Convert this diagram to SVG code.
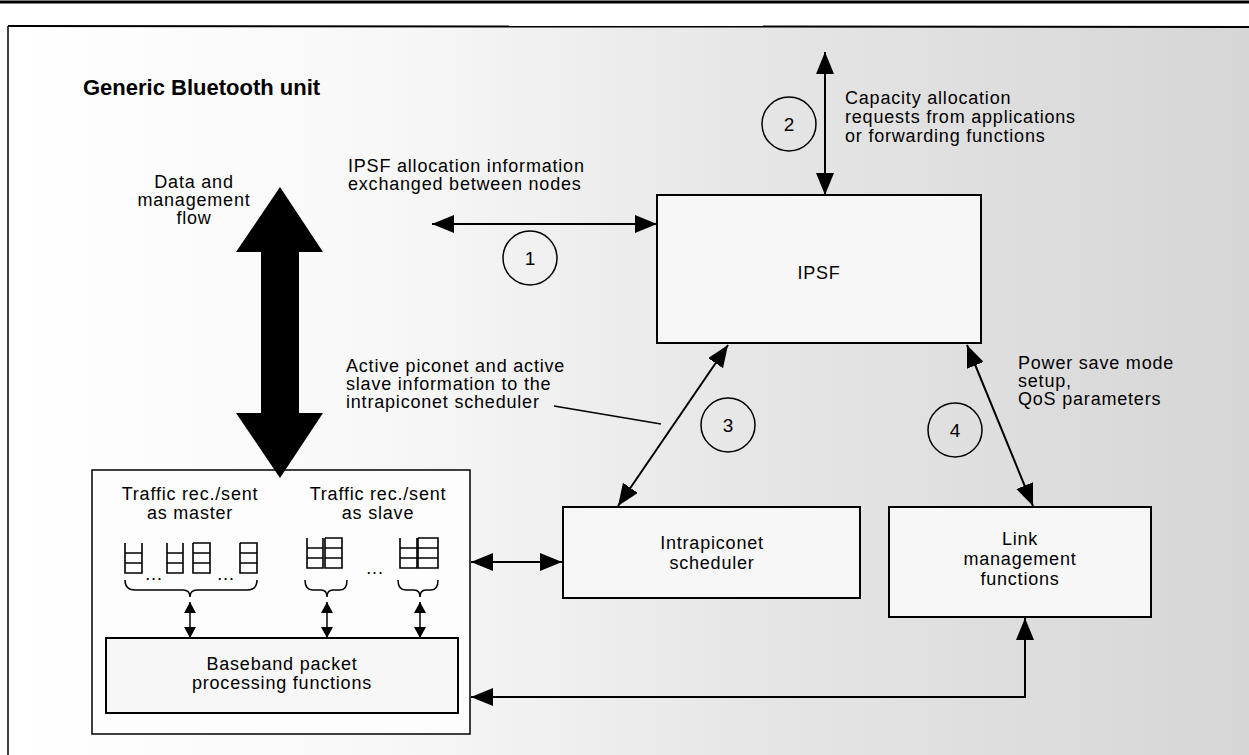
<svg xmlns="http://www.w3.org/2000/svg" width="1249" height="755" viewBox="0 0 1249 755">
<style>
text{font-family:"Liberation Sans",Arial,sans-serif;fill:#000}
.lbl{font-size:18px;letter-spacing:0.8px}
.title{font-size:22px;font-weight:bold}
.num{font-size:19px;text-anchor:middle}
.mid{text-anchor:middle}
.box{fill:#f7f7f7;stroke:#000;stroke-width:2}
.line{stroke:#000;stroke-width:2;fill:none}
.thin{stroke:#000;stroke-width:1.5;fill:none}
.circ{fill:none;stroke:#000;stroke-width:1.5}
.q{fill:none;stroke:#000;stroke-width:1.6}
</style>
<defs>
<linearGradient id="bg" x1="0" y1="0" x2="1" y2="0">
<stop offset="0" stop-color="#ffffff"/>
<stop offset="0.3" stop-color="#f8f8f8"/>
<stop offset="0.6" stop-color="#e6e6e6"/>
<stop offset="1" stop-color="#d6d6d6"/>
</linearGradient>
<marker id="ah" viewBox="0 0 22 18" refX="22" refY="9" markerWidth="22" markerHeight="18" markerUnits="userSpaceOnUse" orient="auto-start-reverse">
<path d="M0,0 L22,9 L0,18 z" fill="#000"/>
</marker>
<marker id="as" viewBox="0 0 11 12" refX="11" refY="6" markerWidth="11" markerHeight="12" markerUnits="userSpaceOnUse" orient="auto-start-reverse">
<path d="M0,0 L11,6 L0,12 z" fill="#000"/>
</marker>
</defs>

<g id="frame">
<rect x="8" y="26" width="1241" height="729" fill="url(#bg)"/>
<line x1="0" y1="2" x2="1249" y2="2" stroke="#000" stroke-width="3"/>
<line x1="8" y1="26" x2="1249" y2="27" stroke="#000" stroke-width="2"/>
<line x1="8" y1="26" x2="8" y2="755" stroke="#000" stroke-width="1.5"/>
<text x="83" y="95" class="title">Generic Bluetooth unit</text>
</g>

<g id="labels">
<text class="lbl mid" x="194"><tspan x="194" y="188">Data and</tspan><tspan x="194" y="206">management</tspan><tspan x="194" y="224">flow</tspan></text>
<text class="lbl" x="348"><tspan x="348" y="172">IPSF allocation information</tspan><tspan x="348" y="190">exchanged between nodes</tspan></text>
<text class="lbl" x="845"><tspan x="845" y="104">Capacity allocation</tspan><tspan x="845" y="123">requests from applications</tspan><tspan x="845" y="142">or forwarding functions</tspan></text>
<text class="lbl" x="346"><tspan x="346" y="372">Active piconet and active</tspan><tspan x="346" y="390">slave information to the</tspan><tspan x="346" y="408">intrapiconet scheduler</tspan></text>
<text class="lbl" x="1018"><tspan x="1018" y="369">Power save mode</tspan><tspan x="1018" y="387">setup,</tspan><tspan x="1018" y="405">QoS parameters</tspan></text>
</g>

<g id="ipsf">
<rect class="box" x="657" y="195" width="324" height="148"/>
<text class="lbl mid" x="819" y="279">IPSF</text>
</g>

<g id="traffic-unit">
<rect x="92" y="470" width="378" height="264" fill="#fdfdfd" stroke="#000" stroke-width="1.5"/>
<text class="lbl mid" x="190"><tspan x="190" y="500">Traffic rec./sent</tspan><tspan x="190" y="519">as master</tspan></text>
<text class="lbl mid" x="378"><tspan x="378" y="500">Traffic rec./sent</tspan><tspan x="378" y="519">as slave</tspan></text>
<g id="queues">
<path class="q" d="M125,543 V573 H142 V543 M125,553 H142 M125,563 H142"/>
<path class="q" d="M167,543 V573 H183 V543 M167,553 H183 M167,563 H183"/>
<path class="q" d="M193,543 V573 H210 V543 H193 M193,553 H210 M193,563 H210"/>
<path class="q" d="M240,543 V573 H257 V543 H240 M240,553 H257 M240,563 H257"/>
<path class="q" d="M307,538 V568 H323 V538 M307,548 H323 M307,558 H323"/>
<path class="q" d="M325,538 V568 H342 V538 H325 M325,548 H342 M325,558 H342"/>
<path class="q" d="M400,538 V568 H417 V538 M400,548 H417 M400,558 H417"/>
<path class="q" d="M418,538 V568 H438 V538 H418 M418,548 H438 M418,558 H438"/>
<text class="lbl mid" x="154" y="580">...</text>
<text class="lbl mid" x="226" y="580">...</text>
<text class="lbl mid" x="375" y="574">...</text>
</g>
<g id="braces">
<path class="thin" d="M125,580 Q125,590 135,590 H183 Q190,590 190,597 Q190,590 197,590 H247 Q257,590 257,580"/>
<path class="thin" d="M305,580 Q305,590 313,590 H321 Q327,590 327,597 Q327,590 333,590 H340 Q347,590 347,580"/>
<path class="thin" d="M398,580 Q398,590 406,590 H414 Q420,590 420,597 Q420,590 426,590 H431 Q438,590 438,580"/>
</g>
</g>

<g id="baseband">
<rect class="box" x="106" y="638" width="352" height="75" fill="#f9f9f9"/>
<text class="lbl mid" x="282"><tspan x="282" y="670">Baseband packet</tspan><tspan x="282" y="689">processing functions</tspan></text>
</g>

<g id="scheduler">
<rect class="box" x="563" y="507" width="297" height="91"/>
<text class="lbl mid" x="712"><tspan x="712" y="549">Intrapiconet</tspan><tspan x="712" y="569">scheduler</tspan></text>
</g>

<g id="link-mgmt">
<rect class="box" x="889" y="507" width="262" height="110"/>
<text class="lbl mid" x="1020"><tspan x="1020" y="545">Link</tspan><tspan x="1020" y="565">management</tspan><tspan x="1020" y="585">functions</tspan></text>
</g>

<g id="circle-1"><circle class="circ" cx="530" cy="258" r="27"/><text class="num" x="530" y="265">1</text></g>
<g id="circle-2"><circle class="circ" cx="789" cy="124" r="27"/><text class="num" x="789" y="131">2</text></g>
<g id="circle-3"><circle class="circ" cx="728" cy="425" r="27"/><text class="num" x="728" y="432">3</text></g>
<g id="circle-4"><circle class="circ" cx="955" cy="430" r="27"/><text class="num" x="955" y="437">4</text></g>

<g id="connectors">
<polygon points="280,187 323,252 299,252 299,413 323,413 280,478 236,413 261,413 261,252 236,252" fill="#000"/>
<line class="line" x1="432" y1="224" x2="657" y2="224" marker-start="url(#ah)" marker-end="url(#ah)"/>
<line class="line" x1="825" y1="52" x2="825" y2="195" marker-start="url(#ah)" marker-end="url(#ah)"/>
<line class="line" x1="728" y1="345" x2="618" y2="506" marker-start="url(#ah)" marker-end="url(#ah)"/>
<line class="line" x1="967" y1="345" x2="1033" y2="506" marker-start="url(#ah)" marker-end="url(#ah)"/>
<line class="line" x1="471" y1="562" x2="562" y2="562" marker-start="url(#ah)" marker-end="url(#ah)"/>
<path class="line" d="M471,697 H1025 V618" marker-start="url(#ah)" marker-end="url(#ah)"/>
<line class="thin" x1="190" y1="602" x2="190" y2="638" marker-start="url(#as)" marker-end="url(#as)"/>
<line class="thin" x1="327" y1="602" x2="327" y2="638" marker-start="url(#as)" marker-end="url(#as)"/>
<line class="thin" x1="420" y1="602" x2="420" y2="638" marker-start="url(#as)" marker-end="url(#as)"/>
<line class="thin" x1="554" y1="406" x2="661" y2="424"/>
</g>
</svg>
